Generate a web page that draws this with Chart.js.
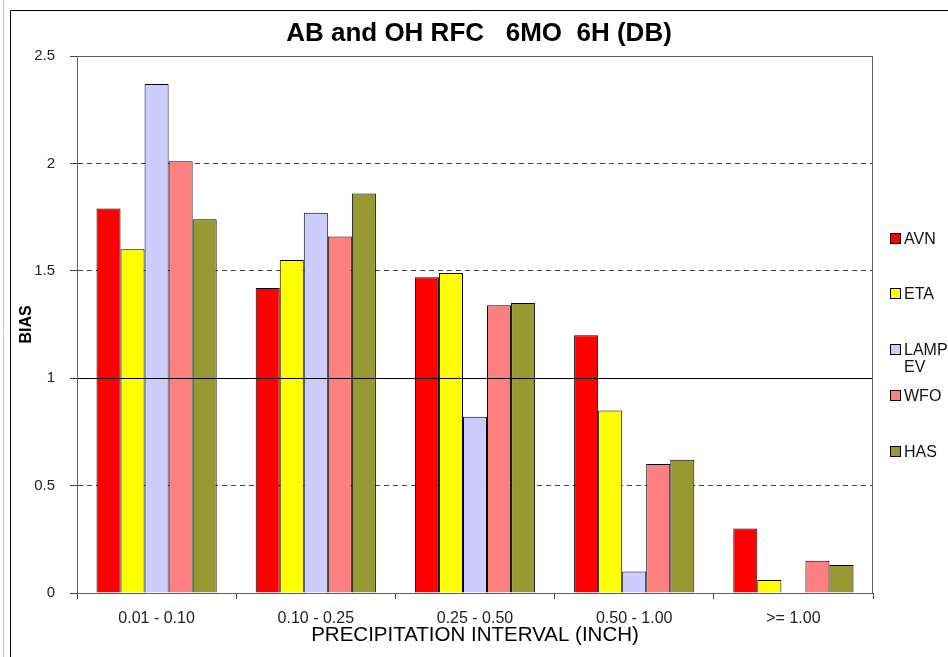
<!DOCTYPE html>
<html>
<head>
<meta charset="utf-8">
<script src="https://cdn.jsdelivr.net/npm/chart.js@4/dist/chart.umd.min.js"></script>
<style>
  html, body { margin: 0; padding: 0; background: #fff; }
  #wrap { position: relative; width: 948px; height: 657px; overflow: hidden; }
  #legend { position: absolute; left: 0; top: 0; font: 16px 'Liberation Sans', Arial, sans-serif; color: #111; }
  .item { position: absolute; left: 890px; width: 58px; line-height: 17px; }
  .box { position: absolute; left: 0; top: 3px; width: 9px; height: 9px; border: 1px solid #000; }
  .txt { position: absolute; left: 14px; width: 44px; }
</style>
</head>
<body>
<div id="wrap">
  <canvas id="chart" width="948" height="657"></canvas>
  <div id="legend"></div>
</div>
<script>
const categories = ['0.01 - 0.10', '0.10 - 0.25', '0.25 - 0.50', '0.50 - 1.00', '>= 1.00'];
const avn    = [1.79, 1.42, 1.47, 1.20, 0.30];
const eta    = [1.60, 1.55, 1.49, 0.85, 0.06];
const lampEv = [2.37, 1.77, 0.82, 0.10, null];
const wfo    = [2.01, 1.66, 1.34, 0.60, 0.15];
const has    = [1.74, 1.86, 1.35, 0.62, 0.13];
const seriesNames  = ['AVN', 'ETA', 'LAMP EV', 'WFO', 'HAS'];
const seriesColors = ['#FF0000', '#FFFF00', '#CCCCFF', '#FF8080', '#999933'];
const seriesValues = [avn, eta, lampEv, wfo, has];
const yMin = 0, yMax = 2.5, yStep = 0.5;
const refValue = 1;
const chartTitle = 'AB and OH RFC   6MO  6H (DB)';

const FONT = "'Liberation Sans', Arial, sans-serif";
const AXIS = '#404040';

// legend rows: centre of first text line
const legendCentres = [238, 293, 349, 395, 451];

const legendEl = document.getElementById('legend');
seriesNames.forEach((name, i) => {
  const row = document.createElement('div');
  row.className = 'item';
  row.style.top = (legendCentres[i] - 8.5) + 'px';
  row.innerHTML = '<div class="box" style="background:' + seriesColors[i] + '"></div><div class="txt">' + name + '</div>';
  legendEl.appendChild(row);
});

// white page, outer frame, title, plot box and the solid reference line
const framePlugin = {
  id: 'frame',
  beforeDraw(chart) {
    const ctx = chart.ctx;
    ctx.save();
    ctx.fillStyle = '#fff';
    ctx.fillRect(0, 0, chart.width, chart.height);
    ctx.strokeStyle = '#c8c8c8';
    ctx.lineWidth = 1;
    ctx.beginPath();
    ctx.moveTo(3.5, 0); ctx.lineTo(3.5, chart.height);
    ctx.stroke();
    ctx.strokeStyle = '#000';
    ctx.beginPath();
    ctx.moveTo(10.5, chart.height); ctx.lineTo(10.5, 10.5); ctx.lineTo(chart.width, 10.5);
    ctx.stroke();
    // title is centred on the whole picture, not on the plot
    ctx.fillStyle = '#000';
    ctx.font = 'bold 26px ' + FONT;
    ctx.textAlign = 'center';
    ctx.textBaseline = 'middle';
    ctx.fillText(chartTitle, 479, 34);
    ctx.restore();
  },
  afterDatasetsDraw(chart) {
    const { ctx, chartArea, scales } = chart;
    const y = Math.round(scales.y.getPixelForValue(refValue) - 0.5) + 0.5;
    ctx.save();
    ctx.strokeStyle = '#000';
    ctx.lineWidth = 1;
    ctx.beginPath();
    ctx.moveTo(chartArea.left, y);
    ctx.lineTo(chartArea.right, y);
    ctx.stroke();
    ctx.strokeStyle = '#606060';
    ctx.strokeRect(chartArea.left + 0.5, chartArea.top + 0.5, chartArea.right - chartArea.left - 1, chartArea.bottom - chartArea.top);
    ctx.restore();
  }
};

new Chart(document.getElementById('chart'), {
  type: 'bar',
  data: {
    labels: categories,
    datasets: seriesNames.map((name, i) => ({
      label: name,
      data: seriesValues[i],
      backgroundColor: seriesColors[i],
      borderColor: '#000',
      borderWidth: 1,
      borderSkipped: 'start',
      categoryPercentage: 0.755,
      barPercentage: 1
    }))
  },
  options: {
    responsive: false,
    animation: false,
    devicePixelRatio: 1,
    layout: { padding: { left: 0, right: 75, top: 56, bottom: 0 } },
    scales: {
      x: {
        afterFit: s => { s.height = 64; },
        grid: {
          offset: true,
          drawOnChartArea: false,
          drawTicks: true,
          tickLength: 6,
          color: AXIS,
          tickColor: AXIS
        },
        border: { display: true, color: AXIS, width: 1 },
        ticks: {
          color: '#222',
          padding: 10,
          maxRotation: 0,
          font: { family: FONT, size: 16 }
        },
        title: {
          display: true,
          text: 'PRECIPITATION INTERVAL (INCH)',
          color: '#000',
          font: { family: FONT, size: 20.5 },
          padding: { top: 0, bottom: 9 }
        }
      },
      y: {
        min: yMin,
        max: yMax,
        afterFit: s => { s.width = 77; },
        ticks: {
          stepSize: yStep,
          color: '#222',
          padding: 15,
          font: { family: FONT, size: 15 },
          callback: v => String(Math.round(v * 10) / 10)
        },
        grid: {
          color: ctx => (ctx.tick && ctx.tick.value === refValue) ? 'rgba(0,0,0,0)' : '#444',
          tickColor: AXIS,
          tickLength: 7,
          lineWidth: 1
        },
        border: { display: true, color: AXIS, width: 1, dash: [5, 4] },
        title: {
          display: true,
          text: 'BIAS',
          color: '#000',
          font: { family: FONT, size: 16, weight: 'bold' },
          padding: { top: 17, bottom: 0 }
        }
      }
    },
    plugins: {
      legend: { display: false },
      tooltip: { enabled: false },
      title: { display: false }
    }
  },
  plugins: [framePlugin]
});
</script>
</body>
</html>
